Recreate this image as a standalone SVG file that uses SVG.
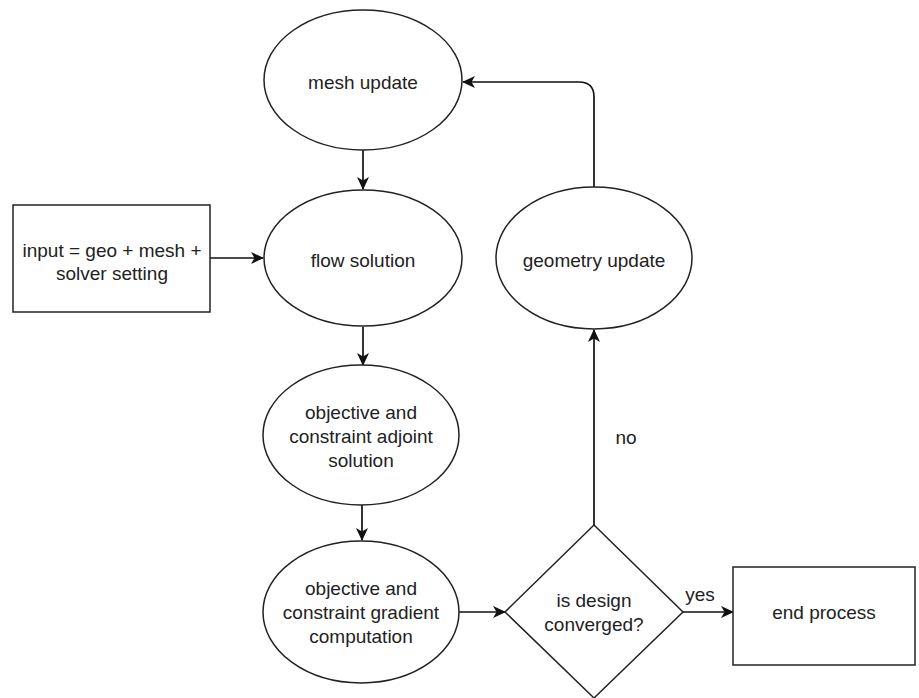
<svg xmlns="http://www.w3.org/2000/svg" width="919" height="698" viewBox="0 0 919 698">
<style>
.n{fill:#fff;stroke:#222;stroke-width:1.5}
.t{font-family:"Liberation Sans",Arial,sans-serif;font-size:19px;fill:#222;text-anchor:middle}
.c{fill:none;stroke:#111;stroke-width:1.7}
</style>
<defs>
<marker id="a" markerWidth="13" markerHeight="12" refX="12" refY="6" orient="auto" markerUnits="userSpaceOnUse">
<path d="M0,0 L13,6 L0,12 L3.5,6 Z" fill="#111"/>
</marker>
</defs>
<rect width="919" height="698" fill="#fff"/>
<g id="connectors">
<line class="c" x1="363" y1="150" x2="363" y2="189" marker-end="url(#a)"/>
<line class="c" x1="210" y1="258" x2="263" y2="258" marker-end="url(#a)"/>
<line class="c" x1="363" y1="327" x2="363" y2="365" marker-end="url(#a)"/>
<line class="c" x1="362" y1="505" x2="362" y2="540" marker-end="url(#a)"/>
<line class="c" x1="459" y1="612" x2="505" y2="612" marker-end="url(#a)"/>
<line class="c" x1="594" y1="525" x2="594" y2="330" marker-end="url(#a)"/>
<path class="c" d="M594,187 L594,97 Q594,82 579,82 L463,82" marker-end="url(#a)"/>
<line class="c" x1="683" y1="612" x2="733" y2="612" marker-end="url(#a)"/>
<text class="t" x="626" y="444">no</text>
<text class="t" x="700" y="601">yes</text>
</g>
<g id="mesh-update">
<ellipse class="n" cx="363" cy="80" rx="99" ry="70"/>
<text class="t" x="363" y="89">mesh update</text>
</g>
<g id="input">
<rect class="n" x="13" y="205" width="197" height="107"/>
<text class="t" x="112" y="257">input = geo + mesh +</text>
<text class="t" x="112" y="280">solver setting</text>
</g>
<g id="flow-solution">
<ellipse class="n" cx="363" cy="258" rx="99" ry="68"/>
<text class="t" x="363" y="267">flow solution</text>
</g>
<g id="adjoint">
<ellipse class="n" cx="361" cy="435" rx="98" ry="70"/>
<text class="t" x="361" y="419">objective and</text>
<text class="t" x="361" y="443">constraint adjoint</text>
<text class="t" x="361" y="467">solution</text>
</g>
<g id="gradient">
<ellipse class="n" cx="361" cy="612" rx="98" ry="71"/>
<text class="t" x="361" y="595">objective and</text>
<text class="t" x="361" y="619">constraint gradient</text>
<text class="t" x="361" y="643">computation</text>
</g>
<g id="decision">
<polygon class="n" points="594,525 683,612 594,698 505,612"/>
<text class="t" x="594" y="607">is design</text>
<text class="t" x="594" y="631">converged?</text>
</g>
<g id="geometry-update">
<ellipse class="n" cx="594" cy="258" rx="98" ry="71"/>
<text class="t" x="594" y="267">geometry update</text>
</g>
<g id="end-process">
<rect class="n" x="733" y="567" width="182" height="98"/>
<text class="t" x="824" y="619">end process</text>
</g>
</svg>
